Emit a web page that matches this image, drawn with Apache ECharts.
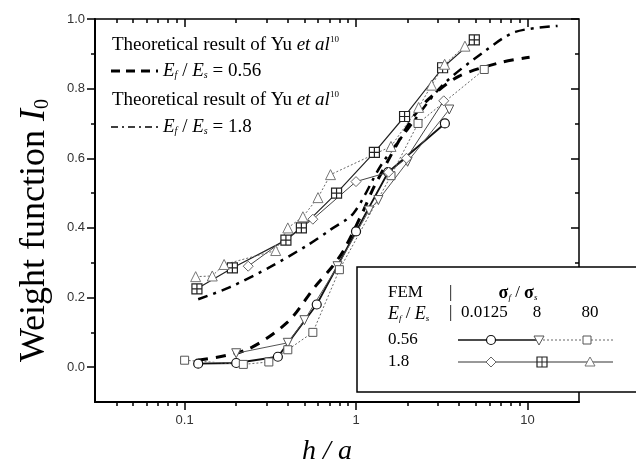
<!DOCTYPE html>
<html>
<head>
<meta charset="utf-8">
<title>Weight function I0</title>
<script src="https://cdn.jsdelivr.net/npm/echarts@6/dist/echarts.min.js"></script>
<style>
  html, body { margin: 0; padding: 0; background: #fff; }
  #chart { width: 636px; height: 467px; }
</style>
</head>
<body>
<div id="chart"></div>
<script>
// h/a values and weight function I0
// FEM, Ef/Es = 0.56
const xCirc056 = [0.12, 0.2, 0.35, 0.59, 1.0, 1.54, 3.3];
const yCirc056 = [0.01, 0.012, 0.03, 0.18, 0.39, 0.56, 0.70];
const xTriD056 = [0.2, 0.4, 0.5, 0.78, 1.19, 1.35, 2.0, 3.5];
const yTriD056 = [0.04, 0.07, 0.135, 0.29, 0.45, 0.48, 0.59, 0.74];
const xSq056 = [0.1, 0.22, 0.31, 0.4, 0.56, 0.8, 1.6, 2.3, 5.6];
const ySq056 = [0.02, 0.008, 0.015, 0.05, 0.1, 0.28, 0.55, 0.70, 0.855];
// FEM, Ef/Es = 1.8
const xDia18 = [0.235, 0.56, 1.0, 1.55, 1.97, 3.25];
const yDia18 = [0.29, 0.425, 0.533, 0.56, 0.60, 0.765];
const xXsq18 = [0.118, 0.19, 0.39, 0.48, 0.77, 1.28, 1.92, 3.2, 4.9];
const yXsq18 = [0.225, 0.285, 0.365, 0.40, 0.50, 0.617, 0.72, 0.86, 0.94];
const xTri18 = [0.116, 0.145, 0.17, 0.34, 0.40, 0.49, 0.6, 0.71, 1.6, 2.32, 2.76, 3.29, 4.32];
const yTri18 = [0.26, 0.262, 0.295, 0.335, 0.40, 0.432, 0.487, 0.553, 0.634, 0.746, 0.81, 0.87, 0.922];
// theory (Yu et al)
const xTh056 = [0.12, 0.23, 0.4, 0.57, 0.73, 0.85, 1.11, 1.28, 2.1, 2.65, 4.0, 7.1, 10.3];
const yTh056 = [0.02, 0.05, 0.13, 0.228, 0.29, 0.337, 0.452, 0.52, 0.71, 0.77, 0.836, 0.876, 0.89];
const xTh18 = [0.12, 0.184, 0.316, 0.52, 0.71, 0.97, 1.4, 2.0, 3.2, 5.66, 8.5, 15];
const yTh18 = [0.195, 0.23, 0.288, 0.35, 0.395, 0.443, 0.58, 0.683, 0.81, 0.908, 0.963, 0.98];

// axis ticks
const xMajor = [0.1, 1, 10];
const xMinor = [0.04, 0.05, 0.06, 0.07, 0.08, 0.09, 0.2, 0.3, 0.4, 0.5, 0.6, 0.7, 0.8, 0.9,
  2, 3, 4, 5, 6, 7, 8, 9];
const yMajor = [0, 0.2, 0.4, 0.6, 0.8, 1.0];
const yMinor = [0.1, 0.3, 0.5, 0.7, 0.9];

const pairs = (xs, ys) => xs.map((x, i) => [x, ys[i]]);
const crossSq = 'path://M0,0L10,0L10,10L0,10Z M5,0L5,10 M0,5L10,5';
const serif = 'Liberation Serif';

const chart = echarts.init(document.getElementById('chart'));

const xBase = { type: 'log', min: 0.03, max: 20, gridIndex: 0, splitLine: { show: false } };
const yBase = { type: 'value', min: -0.1, max: 1.0, gridIndex: 0, splitLine: { show: false } };
const tickStyle = { color: '#000', width: 1.5 };

function fem(name, xs, ys, symbol, opt) {
  return Object.assign({
    name: name,
    type: 'line',
    data: pairs(xs, ys),
    symbol: symbol,
    symbolSize: 9,
    showAllSymbol: true,
    itemStyle: { color: '#fff', borderColor: '#333', borderWidth: 1 },
    lineStyle: { color: '#333', width: 1 },
    z: 3
  }, opt || {});
}

// legend text styles
const eRich = {
  e: { fontFamily: serif, fontStyle: 'italic', fontSize: 19 },
  s: { fontFamily: serif, fontStyle: 'italic', fontSize: 10, verticalAlign: 'bottom' },
  t: { fontFamily: serif, fontSize: 19 }
};
const yuRich = {
  i: { fontFamily: serif, fontStyle: 'italic', fontSize: 19 },
  sup: { fontFamily: serif, fontSize: 9, verticalAlign: 'top' }
};
const femRich = {
  e: { fontFamily: serif, fontStyle: 'italic', fontSize: 18 },
  g: { fontFamily: serif, fontSize: 18, fontWeight: 'bold' },
  s: { fontFamily: serif, fontStyle: 'italic', fontSize: 9, verticalAlign: 'bottom' },
  t: { fontFamily: serif, fontSize: 17 }
};
const femFont = '17px "Liberation Serif"';

const option = {
  backgroundColor: '#fff',
  animation: false,
  grid: { left: 95, right: 57, top: 19, bottom: 65, containLabel: false, outerBoundsMode: 'none',
    show: true, borderColor: '#000', borderWidth: 1.5 },
  xAxis: [
    Object.assign({}, xBase, {
      position: 'bottom',
      axisLine: { onZero: false, lineStyle: { color: '#000', width: 2 } },
      axisTick: { customValues: xMajor, length: 8, lineStyle: tickStyle },
      axisLabel: { customValues: xMajor, formatter: v => String(v), color: '#333',
        fontFamily: 'Liberation Sans', fontSize: 13, margin: 12 },
      name: 'h / a', nameLocation: 'middle', nameGap: 36,
      nameTextStyle: { fontFamily: serif, fontStyle: 'italic', fontSize: 28, color: '#000',
        padding: [0, 20, 0, 0] }
    }),
    Object.assign({}, xBase, {
      position: 'bottom', axisLine: { show: false, onZero: false },
      axisTick: { customValues: xMinor, length: 4, lineStyle: tickStyle },
      axisLabel: { show: false }
    }),
    Object.assign({}, xBase, {
      position: 'top', axisLine: { show: false, onZero: false },
      axisTick: { customValues: xMajor, inside: true, length: 8, lineStyle: tickStyle },
      axisLabel: { show: false }
    }),
    Object.assign({}, xBase, {
      position: 'top', axisLine: { show: false, onZero: false },
      axisTick: { customValues: xMinor, inside: true, length: 4, lineStyle: tickStyle },
      axisLabel: { show: false }
    })
  ],
  yAxis: [
    Object.assign({}, yBase, {
      position: 'left',
      axisLine: { show: true, onZero: false, lineStyle: { color: '#000', width: 2 } },
      axisTick: { show: true, customValues: yMajor, length: 8, lineStyle: tickStyle },
      axisLabel: { customValues: yMajor, formatter: v => v.toFixed(1), color: '#333',
        fontFamily: 'Liberation Sans', fontSize: 13, margin: 10 },
      name: '{a|Weight function }{b|I}{c|0}', nameLocation: 'middle', nameGap: 42,
      nameTextStyle: {
        color: '#000',
        padding: [0, 40, 0, 0],
        rich: {
          a: { fontFamily: serif, fontSize: 36, color: '#000' },
          b: { fontFamily: serif, fontStyle: 'italic', fontSize: 36, color: '#000' },
          c: { fontFamily: serif, fontSize: 20, color: '#000', verticalAlign: 'bottom' }
        }
      }
    }),
    Object.assign({}, yBase, {
      position: 'left', axisLine: { show: false, onZero: false },
      axisTick: { show: true, customValues: yMinor, length: 4, lineStyle: tickStyle },
      axisLabel: { show: false }
    }),
    Object.assign({}, yBase, {
      position: 'right', axisLine: { show: false, onZero: false },
      axisTick: { show: true, customValues: yMajor, inside: true, length: 8, lineStyle: tickStyle },
      axisLabel: { show: false }
    }),
    Object.assign({}, yBase, {
      position: 'right', axisLine: { show: false, onZero: false },
      axisTick: { show: true, customValues: yMinor, inside: true, length: 4, lineStyle: tickStyle },
      axisLabel: { show: false }
    })
  ],
  series: [
    {
      name: 'Theory Ef/Es=0.56', type: 'line', data: pairs(xTh056, yTh056),
      smooth: 0.3, showSymbol: false, z: 2,
      lineStyle: { color: '#000', width: 3, type: [10, 8] }
    },
    {
      name: 'Theory Ef/Es=1.8', type: 'line', data: pairs(xTh18, yTh18),
      smooth: 0.3, showSymbol: false, z: 2,
      lineStyle: { color: '#000', width: 2.5, type: [10, 6, 3, 6] }
    },
    fem('0.56 / 0.0125', xCirc056, yCirc056, 'circle',
      { lineStyle: { color: '#111', width: 1.8 }, itemStyle: { color: '#fff', borderColor: '#111', borderWidth: 1.2 } }),
    fem('0.56 / 8', xTriD056, yTriD056, 'triangle',
      { symbolRotate: 180, lineStyle: { color: '#555', width: 1 }, itemStyle: { color: '#fff', borderColor: '#555', borderWidth: 1 } }),
    fem('0.56 / 80', xSq056, ySq056, 'rect',
      { symbolSize: 8, lineStyle: { color: '#666', width: 1, type: [2, 2] }, itemStyle: { color: '#fff', borderColor: '#555', borderWidth: 1 } }),
    fem('1.8 / 0.0125', xDia18, yDia18, 'diamond',
      { symbolSize: 10, lineStyle: { color: '#444', width: 1 }, itemStyle: { color: '#fff', borderColor: '#666', borderWidth: 1 } }),
    fem('1.8 / 8', xXsq18, yXsq18, crossSq,
      { symbolSize: 10, lineStyle: { color: '#222', width: 1.2 }, itemStyle: { color: '#fff', borderColor: '#222', borderWidth: 1.2 } }),
    fem('1.8 / 80', xTri18, yTri18, 'triangle',
      { symbolSize: 10, lineStyle: { color: '#666', width: 1, type: [2, 2] }, itemStyle: { color: '#fff', borderColor: '#777', borderWidth: 1 } })
  ],
  graphic: [
    // theory legend, top left
    { type: 'text', x: 112, y: 45, z: 10,
      style: { text: 'Theoretical result of Yu {i|et al}{sup|10}', font: '19px "Liberation Serif"',
        fill: '#000', verticalAlign: 'middle', rich: yuRich } },
    { type: 'line', z: 10, shape: { x1: 111, y1: 71, x2: 158, y2: 71 },
      style: { stroke: '#000', lineWidth: 3, lineDash: [9, 6] } },
    { type: 'text', x: 163, y: 71, z: 10,
      style: { text: '{e|E}{s|f}{t| / }{e|E}{s|s}{t| = 0.56}', fill: '#000',
        verticalAlign: 'middle', rich: eRich } },
    { type: 'text', x: 112, y: 100, z: 10,
      style: { text: 'Theoretical result of Yu {i|et al}{sup|10}', font: '19px "Liberation Serif"',
        fill: '#000', verticalAlign: 'middle', rich: yuRich } },
    { type: 'line', z: 10, shape: { x1: 111, y1: 127, x2: 158, y2: 127 },
      style: { stroke: '#000', lineWidth: 1.5, lineDash: [7, 4, 2, 4] } },
    { type: 'text', x: 163, y: 127, z: 10,
      style: { text: '{e|E}{s|f}{t| / }{e|E}{s|s}{t| = 1.8}', fill: '#000',
        verticalAlign: 'middle', rich: eRich } },
    // FEM legend box, bottom right
    { type: 'rect', z: 20, shape: { x: 357, y: 267, width: 300, height: 125 },
      style: { fill: '#fff', stroke: '#000', lineWidth: 1.5 } },
    { type: 'text', z: 21, x: 388, y: 293,
      style: { text: 'FEM', font: femFont, fill: '#000', verticalAlign: 'middle' } },
    { type: 'text', z: 21, x: 449, y: 293,
      style: { text: '|', font: femFont, fill: '#000', verticalAlign: 'middle' } },
    { type: 'text', z: 21, x: 518, y: 293,
      style: { text: '{g|σ}{s|f}{t| / }{g|σ}{s|s}', fill: '#000', align: 'center',
        verticalAlign: 'middle', rich: femRich } },
    { type: 'text', z: 21, x: 388, y: 314,
      style: { text: '{e|E}{s|f}{t| / }{e|E}{s|s}', fill: '#000', verticalAlign: 'middle', rich: femRich } },
    { type: 'text', z: 21, x: 449, y: 313,
      style: { text: '|', font: femFont, fill: '#000', verticalAlign: 'middle' } },
    { type: 'text', z: 21, x: 461, y: 313,
      style: { text: '0.0125', font: femFont, fill: '#000', verticalAlign: 'middle' } },
    { type: 'text', z: 21, x: 537, y: 313,
      style: { text: '8', font: femFont, fill: '#000', align: 'center', verticalAlign: 'middle' } },
    { type: 'text', z: 21, x: 590, y: 313,
      style: { text: '80', font: femFont, fill: '#000', align: 'center', verticalAlign: 'middle' } },
    { type: 'text', z: 21, x: 388, y: 340,
      style: { text: '0.56', font: femFont, fill: '#000', verticalAlign: 'middle' } },
    { type: 'text', z: 21, x: 388, y: 362,
      style: { text: '1.8', font: femFont, fill: '#000', verticalAlign: 'middle' } },
    // row 0.56 samples
    { type: 'line', z: 21, shape: { x1: 458, y1: 340, x2: 539, y2: 340 }, style: { stroke: '#111', lineWidth: 1.5 } },
    { type: 'line', z: 21, shape: { x1: 539, y1: 340, x2: 613, y2: 340 }, style: { stroke: '#666', lineWidth: 1, lineDash: [2, 2] } },
    { type: 'circle', z: 22, shape: { cx: 491, cy: 340, r: 4.5 }, style: { fill: '#fff', stroke: '#111', lineWidth: 1.2 } },
    { type: 'polygon', z: 22, shape: { points: [[534, 336], [544, 336], [539, 345]] }, style: { fill: '#fff', stroke: '#555', lineWidth: 1 } },
    { type: 'rect', z: 22, shape: { x: 583, y: 336, width: 8, height: 8 }, style: { fill: '#fff', stroke: '#555', lineWidth: 1 } },
    // row 1.8 samples
    { type: 'line', z: 21, shape: { x1: 458, y1: 362, x2: 542, y2: 362 }, style: { stroke: '#333', lineWidth: 1 } },
    { type: 'line', z: 21, shape: { x1: 542, y1: 362, x2: 613, y2: 362 }, style: { stroke: '#333', lineWidth: 1.2 } },
    { type: 'polygon', z: 22, shape: { points: [[491, 357], [496, 362], [491, 367], [486, 362]] }, style: { fill: '#fff', stroke: '#666', lineWidth: 1 } },
    { type: 'rect', z: 22, shape: { x: 537, y: 357, width: 10, height: 10 }, style: { fill: '#fff', stroke: '#222', lineWidth: 1.2 } },
    { type: 'polyline', z: 23, shape: { points: [[542, 357], [542, 367]] }, style: { stroke: '#222', lineWidth: 1 } },
    { type: 'polyline', z: 23, shape: { points: [[537, 362], [547, 362]] }, style: { stroke: '#222', lineWidth: 1 } },
    { type: 'polygon', z: 22, shape: { points: [[590, 357], [595, 366], [585, 366]] }, style: { fill: '#fff', stroke: '#777', lineWidth: 1 } }
  ]
};

chart.setOption(option);
</script>
</body>
</html>
